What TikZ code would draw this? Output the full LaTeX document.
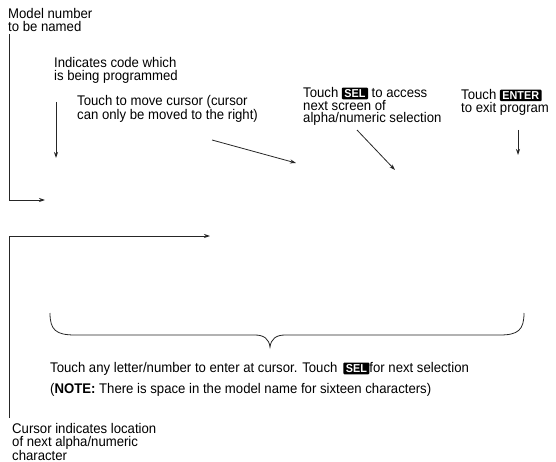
\documentclass[tikz,border=0pt]{standalone}
\usepackage{fontspec}
\setmainfont[FakeStretch=0.94]{Liberation Sans}
\usetikzlibrary{arrows.meta}
\begin{document}
\begin{tikzpicture}[x=1pt,y=-1pt,
  lbl/.style={anchor=north west,inner sep=0pt,align=left,font=\fontsize{14}{12.8}\selectfont},
  ln/.style={line width=0.8pt,draw=black!85},
  arr/.style={ln,-{Stealth[length=6pt,width=4pt]}},
  keybox/.style={fill=black,text=white,rounded corners=1pt,inner xsep=2.5pt,inner ysep=1.8pt,font=\fontsize{11.5}{11.5}\selectfont\bfseries}
]
\useasboundingbox (0,0) rectangle (556,462);
% texts
\node[lbl] (model) at (8,8) {Model number\\to be named};
\node[lbl] (code) at (54,57) {Indicates code which\\is being programmed};
\node[lbl] (move) at (77,95) {Touch to move cursor (cursor\\can only be moved to the right)};
\node[lbl] (sel) at (303,87) {Touch \tikz[baseline=(k.base)]\node[keybox](k){SEL}; to access\\next screen of\\alpha/numeric selection};
\node[lbl] (enter) at (461,89) {Touch \tikz[baseline=(k.base)]\node[keybox](k){ENTER};\\to exit program};
\node[lbl] (touch) at (50,362) {Touch any letter/number to enter at cursor. Touch\, \tikz[baseline=(k.base)]\node[keybox](k){SEL};for next selection\\[7pt](\textbf{NOTE:} There is space in the model name for sixteen characters)};
\node[lbl] (cursor) at (12,423) {Cursor indicates location\\of next alpha/numeric\\character};
% coordinates
\coordinate (m0) at (9,34);
\coordinate (m1) at (9,200);
\coordinate (m2) at (45,200);
\coordinate (c0) at (56,102);
\coordinate (c1) at (56,158);
\coordinate (t0) at (212,140);
\coordinate (t1) at (296,163);
\coordinate (s0) at (357,130);
\coordinate (s1) at (395,170);
\coordinate (e0) at (518,130);
\coordinate (e1) at (518,155);
\coordinate (k0) at (9,418);
\coordinate (k1) at (9,236);
\coordinate (k2) at (210,236);
% connectors
\draw[arr] (m0) |- (m2);
\draw[arr] (c0) -- (c1);
\draw[arr] (t0) -- (t1);
\draw[arr] (s0) -- (s1);
\draw[arr] (e0) -- (e1);
\draw[arr] (k0) |- (k2);
% brace
\draw[ln] (50,313) .. controls (50,330) and (56,335) .. (75,335) -- (255,335)
  .. controls (264,335) and (269,339) .. (270,347)
  .. controls (271,339) and (276,335) .. (285,335) -- (500,335)
  .. controls (518,335) and (524,330) .. (524,313);
\end{tikzpicture}
\end{document}
